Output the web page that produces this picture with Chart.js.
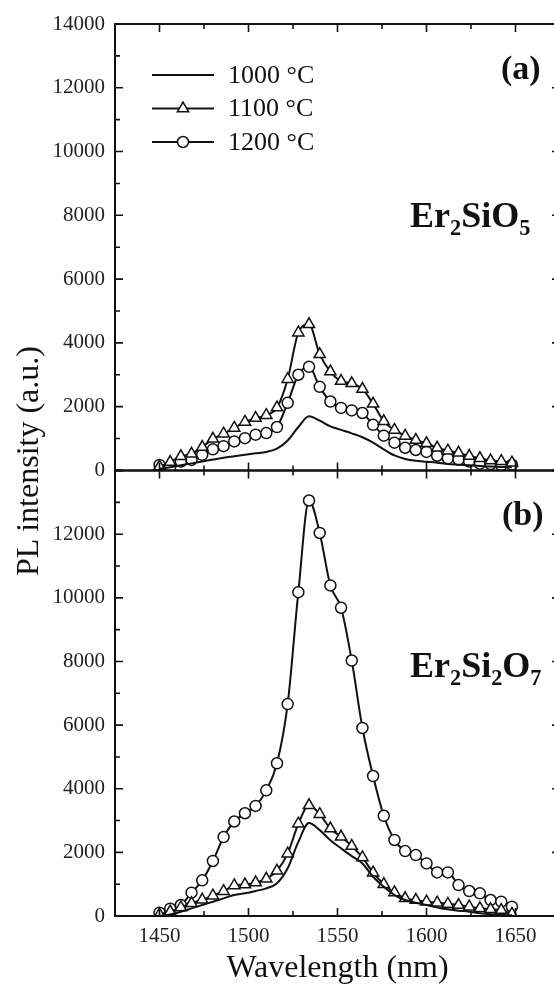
<!DOCTYPE html>
<html>
<head>
<meta charset="utf-8">
<script src="https://cdn.jsdelivr.net/npm/chart.js"></script>
<style>
  html, body { margin: 0; padding: 0; background: #fff; overflow: hidden; }
  #wrap { position: relative; width: 554px; height: 985px; overflow: hidden; font-family: "Liberation Serif", "DejaVu Serif", serif; color: #111; }
  canvas { position: absolute; left: 0; }
  #cTop { top: 0; }
  #cBot { top: 448px; }
  .lab { position: absolute; font-weight: bold; line-height: 1; white-space: nowrap; }
  .lab sub { font-size: 0.62em; vertical-align: baseline; position: relative; top: 0.36em; }
  #ytitle { position: absolute; width: 320px; left: -133px; top: 443px; height: 36px; line-height: 36px;
            font-size: 32px; text-align: center; transform: rotate(-90deg); white-space: nowrap; }
</style>
</head>
<body>
<div id="wrap">
  <canvas id="cTop" width="600" height="493"></canvas>
  <canvas id="cBot" width="600" height="572"></canvas>
  <div id="ytitle">PL intensity (a.u.)</div>
  <div class="lab" style="left:501px; top:51px; font-size:34px;">(a)</div>
  <div class="lab" style="left:410px; top:197px; font-size:36px;">Er<sub>2</sub>SiO<sub>5</sub></div>
  <div class="lab" style="left:502px; top:497px; font-size:34px;">(b)</div>
  <div class="lab" style="left:410px; top:647px; font-size:36px;">Er<sub>2</sub>Si<sub>2</sub>O<sub>7</sub></div>
</div>
<script>
// wavelength grid (nm)
const wavelength = [1450, 1456, 1462, 1468, 1474, 1480, 1486, 1492, 1498, 1504, 1510, 1516, 1522, 1528, 1534,
  1540, 1546, 1552, 1558, 1564, 1570, 1576, 1582, 1588, 1594, 1600, 1606, 1612, 1618, 1624, 1630, 1636, 1642, 1648];

// (a) Er2SiO5
const a1000 = [50, 100, 160, 220, 280, 340, 400, 445, 490, 535, 580, 680, 940, 1360, 1700,
  1560, 1380, 1270, 1160, 1040, 870, 660, 470, 360, 300, 270, 240, 200, 180, 160, 140, 120, 110, 100];
const a1100 = [120, 260, 440, 520, 730, 990, 1150, 1330, 1520, 1640, 1730, 1970, 2860, 4320, 4580,
  3640, 3100, 2800, 2730, 2550, 2090, 1540, 1270, 1080, 950, 850, 710, 620, 550, 450, 380, 310, 290, 240];
const a1200 = [170, 110, 280, 330, 490, 660, 760, 910, 1010, 1120, 1170, 1360, 2120, 3000, 3250,
  2620, 2160, 1960, 1880, 1800, 1430, 1090, 870, 710, 640, 580, 460, 380, 340, 280, 210, 200, 160, 180];

// (b) Er2Si2O7
const b1000 = [0, 50, 136, 240, 345, 450, 555, 660, 712, 785, 870, 1030, 1500, 2330, 2920,
  2700, 2380, 2125, 1884, 1653, 1235, 921, 659, 502, 419, 345, 272, 209, 167, 136, 84, 52, 40, 20];
const b1100 = [50, 140, 270, 400, 510, 640, 780, 960, 990, 1050, 1170, 1420, 1960, 2900, 3480,
  3200, 2750, 2490, 2200, 1840, 1360, 1000, 740, 555, 500, 450, 420, 380, 345, 293, 241, 209, 188, 63];
const b1200 = [105, 230, 345, 733, 1120, 1730, 2480, 2970, 3230, 3460, 3950, 4800, 6660, 10180, 13060,
  12040, 10390, 9690, 8030, 5910, 4400, 3150, 2390, 2040, 1915, 1653, 1371, 1371, 973, 785, 712, 502, 450, 293];

const seriesLabels = ['1000 °C', '1100 °C', '1200 °C'];
const xMajor = [1450, 1500, 1550, 1600, 1650];
const xMinor = [1475, 1525, 1575, 1625];
const yMajor = [0, 2000, 4000, 6000, 8000, 10000, 12000, 14000];
const yMinor = [1000, 3000, 5000, 7000, 9000, 11000, 13000];

const INK = '#111';
const SERIF = '"Liberation Serif", "DejaVu Serif", serif';

function toPoints(ys) {
  return wavelength.map((w, i) => ({ x: w, y: ys[i] }));
}

function makeDatasets(s1000, s1100, s1200) {
  const base = {
    borderColor: INK, backgroundColor: '#fff', borderWidth: 2,
    cubicInterpolationMode: 'monotone', pointBorderWidth: 1.5, pointBorderColor: INK,
    pointBackgroundColor: '#fff'
  };
  return [
    Object.assign({}, base, { label: seriesLabels[0], data: toPoints(s1000), pointRadius: 0 }),
    Object.assign({}, base, { label: seriesLabels[1], data: toPoints(s1100), pointStyle: 'triangle', pointRadius: 6.5 }),
    Object.assign({}, base, { label: seriesLabels[2], data: toPoints(s1200), pointStyle: 'circle', pointRadius: 5.5 })
  ];
}

// box + inward ticks on all four sides
const frameTicks = {
  id: 'frameTicks',
  afterDatasetsDraw(chart) {
    const { ctx, chartArea: a, scales: { x, y } } = chart;
    ctx.save();
    ctx.strokeStyle = INK;
    ctx.lineWidth = 2;
    ctx.strokeRect(a.left, a.top, a.right - a.left, a.bottom - a.top);
    ctx.lineWidth = 1.6;
    ctx.beginPath();
    const xt = (v, len) => {
      const px = x.getPixelForValue(v);
      ctx.moveTo(px, a.bottom); ctx.lineTo(px, a.bottom - len);
      ctx.moveTo(px, a.top); ctx.lineTo(px, a.top + len);
    };
    const yt = (v, len) => {
      const py = y.getPixelForValue(v);
      ctx.moveTo(a.left, py); ctx.lineTo(a.left + len, py);
      ctx.moveTo(a.right, py); ctx.lineTo(a.right - len, py);
    };
    xMajor.forEach(v => xt(v, 8));
    xMinor.forEach(v => xt(v, 5));
    yMajor.forEach(v => yt(v, 8));
    yMinor.forEach(v => yt(v, 5));
    ctx.stroke();
    ctx.restore();
  }
};

// legend inside the top panel
const insideLegend = {
  id: 'insideLegend',
  afterDraw(chart) {
    const { ctx, chartArea: a } = chart;
    const x0 = a.left + 37, x1 = a.left + 99, xm = (x0 + x1) / 2;
    ctx.save();
    ctx.font = '26px ' + SERIF;
    ctx.textBaseline = 'middle';
    chart.data.datasets.forEach((ds, i) => {
      const yy = a.top + 51 + i * 33.5;
      ctx.strokeStyle = INK;
      ctx.lineWidth = 2;
      ctx.beginPath(); ctx.moveTo(x0, yy); ctx.lineTo(x1, yy); ctx.stroke();
      if (ds.pointRadius > 0) {
        ctx.fillStyle = '#fff';
        ctx.lineWidth = 1.5;
        ctx.beginPath();
        if (ds.pointStyle === 'triangle') {
          const r = ds.pointRadius;
          for (let k = 0; k < 3; k++) {
            const ang = k * 2 * Math.PI / 3;
            const px = xm + Math.sin(ang) * r, py = yy - Math.cos(ang) * r;
            if (k === 0) ctx.moveTo(px, py); else ctx.lineTo(px, py);
          }
          ctx.closePath();
        } else {
          ctx.arc(xm, yy, ds.pointRadius, 0, Math.PI * 2);
        }
        ctx.fill(); ctx.stroke();
      }
      ctx.fillStyle = INK;
      ctx.fillText(ds.label, a.left + 113, yy + 1);
    });
    ctx.restore();
  }
};

function baseOptions(isBottom) {
  const x = {
    type: 'linear', min: 1425, max: 1675,
    display: isBottom,
    grid: { display: false, drawTicks: false },
    border: { display: false },
    afterBuildTicks: s => { s.ticks = xMajor.map(v => ({ value: v })); },
    ticks: { font: { family: SERIF, size: 21 }, color: '#222', padding: 8, maxRotation: 0,
             callback: v => String(v) },
    title: { display: true, text: 'Wavelength (nm)', font: { family: SERIF, size: 32 }, color: INK,
             padding: { top: 0, bottom: 32 } }
  };
  if (isBottom) x.afterFit = s => { s.height = 104; };
  return {
    responsive: false,
    animation: false,
    layout: { padding: { top: isBottom ? 10 : 24, right: 40, bottom: isBottom ? 0 : 10, left: 0 } },
    plugins: { legend: { display: false }, tooltip: { enabled: false } },
    elements: { line: { tension: 0.4 } },
    scales: {
      x: x,
      y: {
        type: 'linear', min: 0, max: 14000,
        grid: { display: false, drawTicks: false },
        border: { display: false },
        afterBuildTicks: s => {
          s.ticks = yMajor.filter(v => !(isBottom && v === 14000)).map(v => ({ value: v }));
        },
        afterFit: s => { s.width = 115; },
        ticks: { font: { family: SERIF, size: 21 }, color: '#222', padding: 10, callback: v => String(v) }
      }
    }
  };
}

new Chart(document.getElementById('cTop'), {
  type: 'line',
  data: { datasets: makeDatasets(a1000, a1100, a1200) },
  options: baseOptions(false),
  plugins: [frameTicks, insideLegend]
});

new Chart(document.getElementById('cBot'), {
  type: 'line',
  data: { datasets: makeDatasets(b1000, b1100, b1200) },
  options: baseOptions(true),
  plugins: [frameTicks]
});
</script>
</body>
</html>
